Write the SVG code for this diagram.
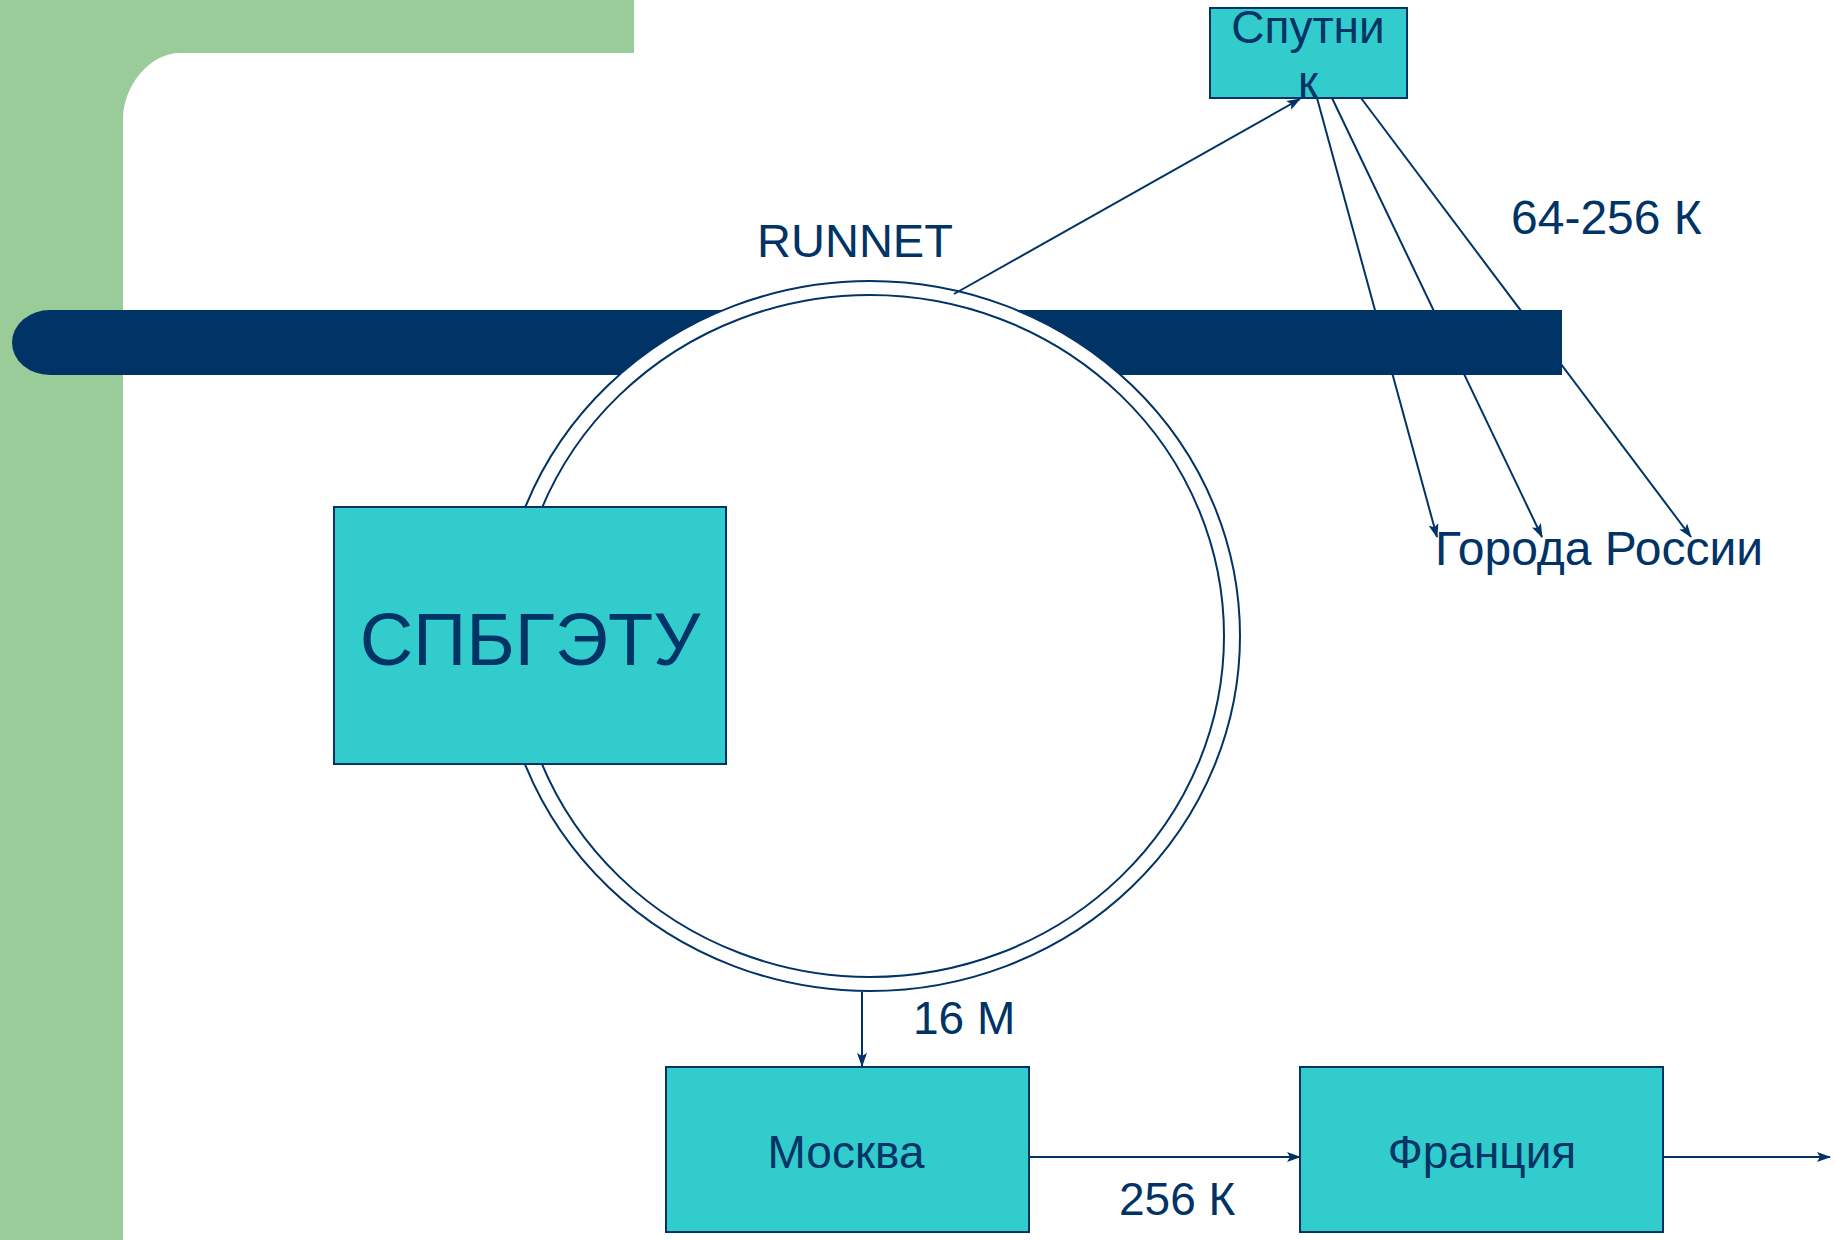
<svg xmlns="http://www.w3.org/2000/svg" width="1835" height="1240" viewBox="0 0 1835 1240">
  <defs>
    <style>
      .box { fill: #33CCCC; stroke: #003366; stroke-width: 2; }
      .lbl { font-family: "Liberation Sans", Arial, sans-serif; fill: #003366; }
      .conn { stroke: #003366; stroke-width: 2; fill: none; marker-end: url(#arrow); }
    </style>
    <marker id="arrow" viewBox="0 0 14 10" refX="13" refY="5" markerWidth="14" markerHeight="10" markerUnits="userSpaceOnUse" orient="auto">
      <path d="M0,0 L14,5 L0,10 L3,5 Z" fill="#003366"/>
    </marker>
  </defs>
  <rect width="1835" height="1240" fill="#ffffff"/>
  <g id="background">
    <rect x="0" y="0" width="634" height="53" fill="#99CC99"/>
    <rect x="0" y="0" width="123" height="1240" fill="#99CC99"/>
    <path d="M123,53 L180,53 C150,53 123,85 123,120 Z" fill="#99CC99"/>
  </g>
  <g id="bar">
    <path d="M50,310 L1562,310 L1562,375 L50,375 A38,32.5 0 0 1 50,310 Z" fill="#003366"/>
  </g>
  <g id="connectors">
    <line class="conn" x1="1317" y1="98" x2="1437" y2="537"/>
    <line class="conn" x1="1332" y1="98" x2="1542" y2="537"/>
    <line class="conn" x1="1361" y1="98" x2="1691" y2="537"/>
  </g>
  <g id="bar-over">
    <rect x="1100" y="310" width="462" height="65" fill="#003366"/>
  </g>
  <g id="runnet">
    <ellipse cx="870" cy="636" rx="370" ry="355" fill="#ffffff" stroke="#003366" stroke-width="2"/>
    <ellipse cx="870" cy="636" rx="354" ry="341" fill="none" stroke="#003366" stroke-width="2"/>
    <text class="lbl" x="855" y="257" font-size="47" text-anchor="middle">RUNNET</text>
  </g>
  <g id="connectors2">
    <line class="conn" x1="954" y1="294" x2="1300" y2="99"/>
    <line class="conn" x1="862" y1="992" x2="862" y2="1066"/>
    <line class="conn" x1="1029" y1="1157" x2="1300" y2="1157"/>
    <line class="conn" x1="1663" y1="1157" x2="1830" y2="1157"/>
  </g>
  <g id="spbgetu">
    <rect class="box" x="334" y="507" width="392" height="257"/>
    <text class="lbl" x="530" y="665" font-size="74" text-anchor="middle">СПБГЭТУ</text>
  </g>
  <g id="sputnik">
    <rect class="box" x="1210" y="8" width="197" height="90"/>
    <text class="lbl" x="1308" y="43" font-size="46" text-anchor="middle">Спутни</text>
    <text class="lbl" x="1308" y="98" font-size="46" text-anchor="middle">к</text>
  </g>
  <g id="moskva">
    <rect class="box" x="666" y="1067" width="363" height="165"/>
    <text class="lbl" x="846" y="1168" font-size="46" text-anchor="middle">Москва</text>
  </g>
  <g id="francia">
    <rect class="box" x="1300" y="1067" width="363" height="165"/>
    <text class="lbl" x="1482" y="1168" font-size="46" text-anchor="middle">Франция</text>
  </g>
  <g id="labels">
    <text class="lbl" x="1511" y="234" font-size="48">64-256 К</text>
    <text class="lbl" x="1435" y="565" font-size="48">Города России</text>
    <text class="lbl" x="913" y="1034" font-size="46">16 М</text>
    <text class="lbl" x="1119" y="1215" font-size="46">256 К</text>
  </g>
</svg>
